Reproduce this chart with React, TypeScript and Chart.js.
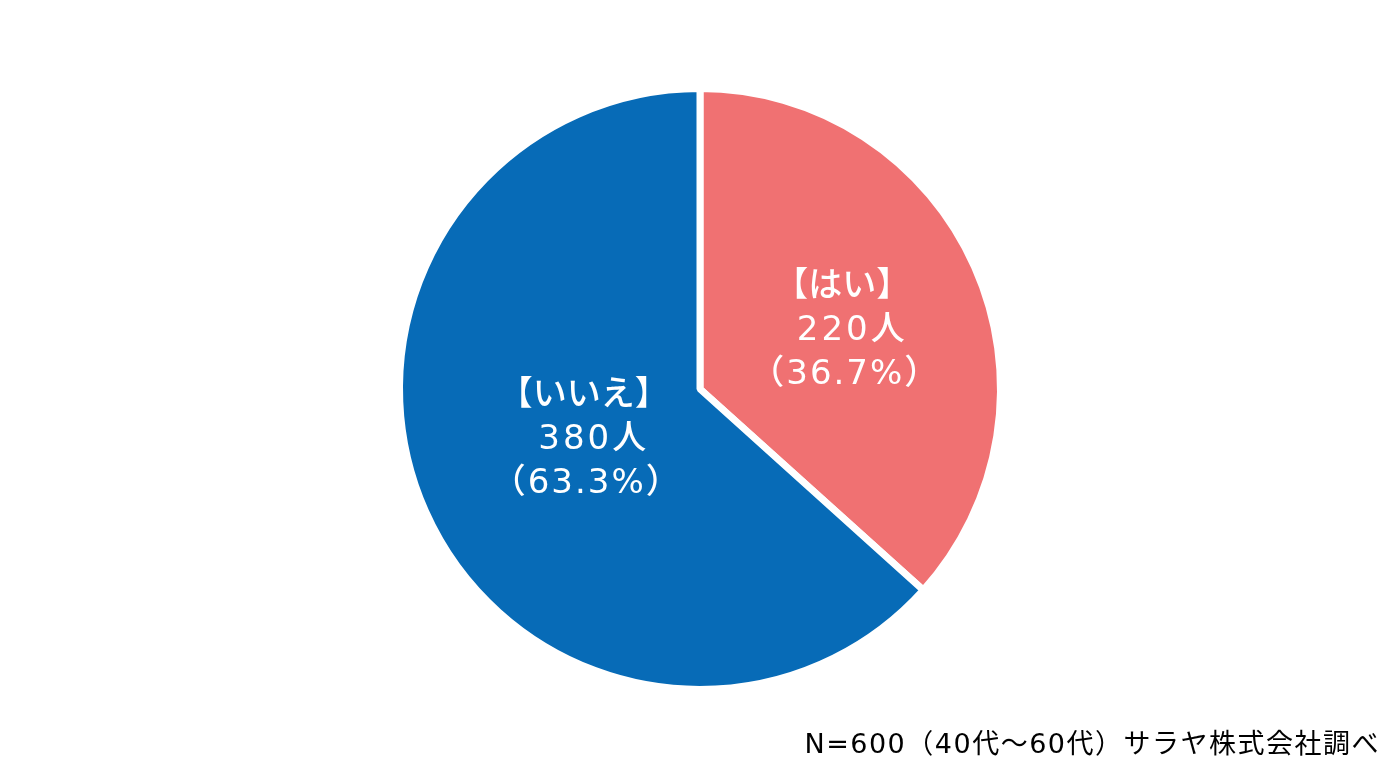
import React, { useEffect, useRef } from "react";
import { Chart, registerables } from "chart.js";

Chart.register(...registerables);

const categories: string[] = ["はい", "いいえ"];
const counts: number[] = [220, 380];
const percents: string[] = ["36.7", "63.3"];
const sliceColors: string[] = ["#f07172", "#076bb7"];
const footnote = "N=600（40代～60代）サラヤ株式会社調べ";

const LABEL_FONT = '500 34px "DejaVu Sans", "Noto Sans CJK JP", sans-serif';
const FOOT_FONT = '27px "DejaVu Sans", "Noto Sans CJK JP", sans-serif';
const labelOffsets = [
  { dx: 8, dy: 3 },
  { dx: 24, dy: -10 },
];

const labelPlugin = {
  id: "sliceLabels",
  afterDatasetsDraw(chart: any) {
    const ctx = chart.ctx;
    const meta = chart.getDatasetMeta(0);
    ctx.save();
    ctx.fillStyle = "#ffffff";
    ctx.font = LABEL_FONT;
    ctx.textAlign = "center";
    ctx.textBaseline = "middle";
    meta.data.forEach((arc: any, i: number) => {
      const p = arc.tooltipPosition();
      const off = labelOffsets[i];
      const cx = p.x + off.dx;
      const cy = p.y + off.dy;
      const lines = [
        { t: `【${categories[i]}】`, dx: -3, ls: "0px" },
        { t: `${counts[i]}人`, dx: 7, ls: "3px" },
        { t: `（${percents[i]}%）`, dx: 0, ls: "2px" },
      ];
      lines.forEach((ln, k) => {
        (ctx as any).letterSpacing = ln.ls;
        ctx.fillText(ln.t, cx + ln.dx, cy + (k - 1) * 44);
      });
    });
    ctx.restore();
  },
  afterDraw(chart: any) {
    const ctx = chart.ctx;
    ctx.save();
    ctx.fillStyle = "#000000";
    ctx.font = FOOT_FONT;
    (ctx as any).letterSpacing = "1.5px";
    ctx.textAlign = "right";
    ctx.textBaseline = "middle";
    ctx.fillText(footnote, 1380, 746);
    ctx.restore();
  },
};

export default function App() {
  const ref = useRef<HTMLCanvasElement | null>(null);
  useEffect(() => {
    if (!ref.current) return;
    const chart = new Chart(ref.current, {
      type: "pie",
      data: {
        labels: categories,
        datasets: [
          {
            data: counts,
            backgroundColor: sliceColors,
            borderColor: "#ffffff",
            borderWidth: 7,
          },
        ],
      },
      options: {
        responsive: false,
        animation: false,
        layout: { padding: { top: 85, bottom: 84, left: 0, right: 0 } },
        plugins: {
          legend: { display: false },
          tooltip: { enabled: false },
        },
      },
      plugins: [labelPlugin],
    });
    return () => chart.destroy();
  }, []);
  return (
    <div style={{ position: "absolute", left: 0, top: 0, width: 1400, height: 777, background: "#ffffff" }}>
      <canvas ref={ref} width={1400} height={777} />
    </div>
  );
}
